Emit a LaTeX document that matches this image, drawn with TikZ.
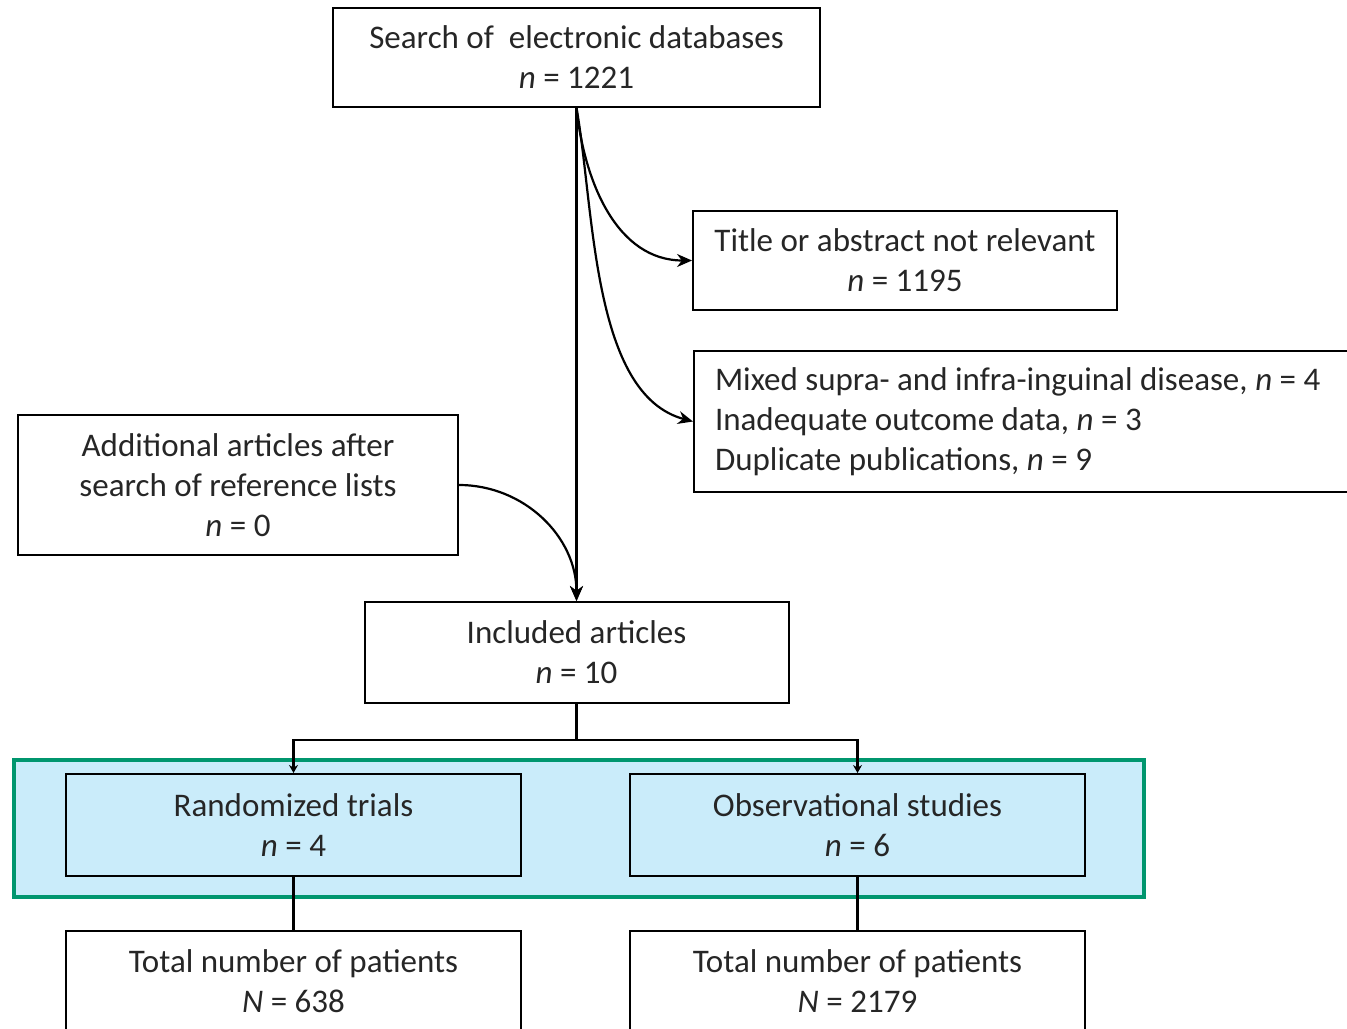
\documentclass[tikz,border=0pt]{standalone}
\usepackage{fontspec}
\setmainfont{Carlito}
\usetikzlibrary{arrows.meta}
\definecolor{framegreen}{RGB}{0,150,110}
\definecolor{panelblue}{RGB}{202,236,250}
\tikzset{box/.style={draw,line width=1pt,align=center,inner sep=0pt,text=black!85,font=\fontsize{16.5}{20}\selectfont},
 link/.style={line width=1.1pt,-{Stealth[length=7.5pt,width=6.5pt]}},
 tick/.style={line width=1.1pt,-{Stealth[length=4pt,width=4.5pt]}}}
\begin{document}
\begin{tikzpicture}[x=.5pt,y=-.5pt]
\clip(0,0)rectangle(1347,1028);
\fill[panelblue](14,760)rectangle(1144,897);\draw[framegreen,line width=2pt](14,760)rectangle(1144,897);
\node[box,minimum width=243.5pt,minimum height=49.5pt](srch)at(576.5,57.5){Search of~ electronic databases\\\textit{n} = 1221};
\node[box,minimum width=212pt,minimum height=49.5pt](title)at(905,260.5){Title or abstract not relevant\\\textit{n} = 1195};
\node[box,anchor=west,align=left,inner xsep=10.5pt,text width=330pt,minimum height=70.5pt](mixed)at(693,421.5){\spaceskip=\fontdimen2\font\relax Mixed supra- and infra-inguinal disease, \textit{n} = 4\\Inadequate outcome data, \textit{n} = 3\\Duplicate publications, \textit{n} = 9};
\node[box,minimum width=220pt,minimum height=70pt](addl)at(238,485){Additional articles after\\search of reference lists\\\textit{n} = 0};
\node[box,minimum width=212pt,minimum height=50.5pt](incl)at(576.5,652.5){Included articles\\\textit{n} = 10};
\node[box,minimum width=227.5pt,minimum height=51pt](rand)at(293.5,825){Randomized trials\\\textit{n} = 4};
\node[box,minimum width=227.5pt,minimum height=51pt](obs)at(857.5,825){Observational studies\\\textit{n} = 6};
\node[box,minimum width=227.5pt,minimum height=50pt](tot1)at(293.5,981){Total number of patients\\\textit{N} = 638};
\node[box,minimum width=227.5pt,minimum height=50pt](tot2)at(857.5,981){Total number of patients\\\textit{N} = 2179};
% exclusions and merge
\draw[link](srch.south)--(incl.north);
\draw[link](srch.south)to[out=-84,in=180](title.west);
\draw[link](srch.south)to[out=-80,in=165,looseness=.8](mixed.west);
\draw[link](addl.east)to[out=0,in=90](incl.north);
% split by design
\draw[line width=1.1pt](incl.south)--++(0,36)coordinate(fork);
\draw[tick](fork)-|(rand.north);\draw[tick](fork)-|(obs.north);
\draw[line width=1.1pt](rand)--(tot1);\draw[line width=1.1pt](obs)--(tot2);
\end{tikzpicture}
\end{document}
